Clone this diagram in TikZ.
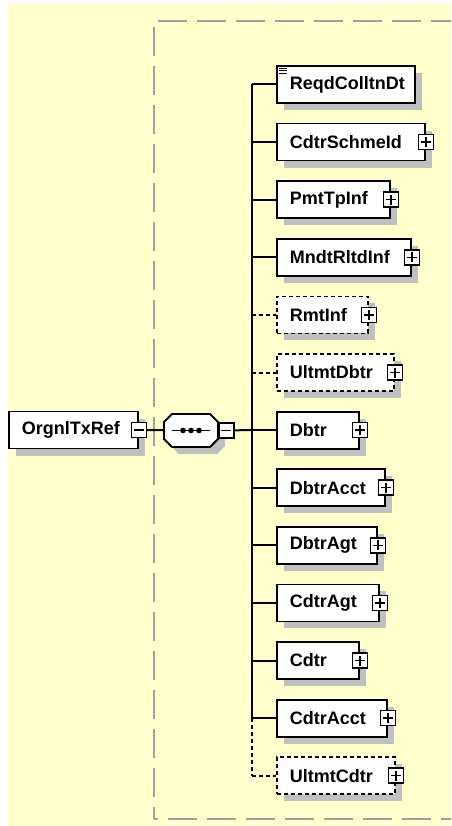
\documentclass[tikz,border=0pt]{standalone}
\usepackage{fontspec}
\setmainfont{Liberation Sans}
\usetikzlibrary{calc,shadows}
\definecolor{bgyellow}{RGB}{255,255,204}
\definecolor{shade}{RGB}{192,192,192}
\definecolor{frame}{RGB}{160,160,160}
\newcommand\elemfont{\fontsize{18}{20}\selectfont\bfseries}
\tikzset{
	conn/.style={line width=2pt, black},
	optline/.style={dash pattern=on 4pt off 3pt},
	elem/.style={draw, fill=white, line width=1.8pt, minimum height=37pt, inner xsep=13pt, inner ysep=0pt, anchor=west, align=left, font=\elemfont, general shadow={fill=shade, shadow xshift=7pt, shadow yshift=-7pt}},
	optelem/.style={elem, optline},
	expbox/.style={draw, fill=white, line width=1.5pt, minimum size=15pt, inner sep=0pt},
	plusbox/.style={expbox, path picture={\draw[line width=1.5pt] ($(path picture bounding box.center)+(-5pt,0pt)$) -- ++(10pt,0pt) ($(path picture bounding box.center)+(0pt,-5pt)$) -- ++(0pt,10pt);}},
	minusbox/.style={expbox, path picture={\draw[line width=1.5pt] ($(path picture bounding box.center)+(-5pt,0pt)$) -- ++(10pt,0pt);}},
	seqbox/.style={minimum width=54pt, minimum height=33pt, inner sep=0pt, outer sep=0pt},
	seqline/.style={draw, fill=white, line width=1.8pt, general shadow={fill=shade, shadow xshift=7pt, shadow yshift=-7pt}}
}
\begin{document}
\begin{tikzpicture}[x=1pt, y=-1pt]
			%%%%% START %%%%%
			
			\useasboundingbox (0, 0) rectangle (451, 826);
			\fill[bgyellow] (8, 4) rectangle (451, 826);
			
			\draw[frame, line width=1.8pt, dash pattern=on 29pt off 10pt, dash phase=35pt] (154, 21) -- (451, 21);
			\draw[frame, line width=1.8pt, dash pattern=on 29pt off 10pt, dash phase=33pt] (154, 21) -- (154, 819);
			\draw[frame, line width=1.8pt, dash pattern=on 29pt off 10pt, dash phase=25pt] (154, 819) -- (451, 819);
			
			\node[elem, text width=103pt] (root) at (8, 430) {OrgnlTxRef};
			\node[minusbox] (root-mn) at (root.east) {};
			
			\node[seqbox] (seq) at (191, 430.5) {};
			\draw[seqline] ($(seq.north west)+(8pt,0pt)$) -- ($(seq.north east)+(-8pt,0pt)$) -- ($(seq.north east)+(0pt,-8pt)$) -- ($(seq.south east)+(0pt,8pt)$) -- ($(seq.south east)+(-8pt,0pt)$) -- ($(seq.south west)+(8pt,0pt)$) -- ($(seq.south west)+(0pt,8pt)$) -- ($(seq.north west)+(0pt,-8pt)$) -- cycle;
			\draw[line width=1.8pt] ($(seq.west)+(8pt,0pt)$) -- ($(seq.east)+(-8pt,0pt)$);
			\fill ($(seq.center)+(-8pt,0pt)$) circle (2.8pt);
			\fill (seq.center) circle (2.8pt);
			\fill ($(seq.center)+(8pt,0pt)$) circle (2.8pt);
			\node[minusbox, anchor=west] (seq-mn) at (seq.east) {};
			
			\coordinate (bus) at (252, 430);
			
			\node[elem, text width=112pt] (reqd) at (276, 84.5) {ReqdColltnDt};
			\draw[line width=1pt] ($(reqd.north west)+(3pt,-3pt)$) -- ++(8pt,0pt);
			\draw[line width=1pt] ($(reqd.north west)+(3pt,-5.5pt)$) -- ++(8pt,0pt);
			\draw[line width=1pt] ($(reqd.north west)+(3pt,-8pt)$) -- ++(8pt,0pt);
			
			\node[elem, text width=122pt] (schme) at (276, 142.1) {CdtrSchmeId};
			\node[plusbox] (schme-pl) at (schme.east) {};
			
			\node[elem, text width=87pt] (pmttp) at (276, 199.7) {PmtTpInf};
			\node[plusbox] (pmttp-pl) at (pmttp.east) {};
			
			\node[elem, text width=108pt] (mndt) at (276, 257.3) {MndtRltdInf};
			\node[plusbox] (mndt-pl) at (mndt.east) {};
			
			\node[optelem, text width=65pt] (rmt) at (276, 314.9) {RmtInf};
			\node[plusbox] (rmt-pl) at (rmt.east) {};
			
			\node[optelem, text width=91pt] (ultdbtr) at (276, 372.5) {UltmtDbtr};
			\node[plusbox] (ultdbtr-pl) at (ultdbtr.east) {};
			
			\node[elem, text width=56pt] (dbtr) at (276, 430.1) {Dbtr};
			\node[plusbox] (dbtr-pl) at (dbtr.east) {};
			
			\node[elem, text width=82pt] (dbtracct) at (276, 487.7) {DbtrAcct};
			\node[plusbox] (dbtracct-pl) at (dbtracct.east) {};
			
			\node[elem, text width=74pt] (dbtragt) at (276, 545.3) {DbtrAgt};
			\node[plusbox] (dbtragt-pl) at (dbtragt.east) {};
			
			\node[elem, text width=76pt] (cdtragt) at (276, 602.9) {CdtrAgt};
			\node[plusbox] (cdtragt-pl) at (cdtragt.east) {};
			
			\node[elem, text width=56pt] (cdtr) at (276, 660.5) {Cdtr};
			\node[plusbox] (cdtr-pl) at (cdtr.east) {};
			
			\node[elem, text width=84pt] (cdtracct) at (276, 718.1) {CdtrAcct};
			\node[plusbox] (cdtracct-pl) at (cdtracct.east) {};
			
			\node[optelem, text width=92pt] (ultcdtr) at (276, 775.7) {UltmtCdtr};
			\node[plusbox] (ultcdtr-pl) at (ultcdtr.east) {};
			
			% connectors
			\draw[conn] (root-mn) -- (seq);
			\draw[conn] (seq-mn) -- (bus);
			\draw[conn] (reqd.west -| bus) -- (cdtracct.west -| bus);
			\draw[conn, optline] (cdtracct.west -| bus) -- (ultcdtr.west -| bus);
			
			\draw[conn] (reqd.west -| bus) -- (reqd);
			\draw[conn] (schme.west -| bus) -- (schme);
			\draw[conn] (pmttp.west -| bus) -- (pmttp);
			\draw[conn] (mndt.west -| bus) -- (mndt);
			\draw[conn, optline] (rmt.west -| bus) -- (rmt);
			\draw[conn, optline] (ultdbtr.west -| bus) -- (ultdbtr);
			\draw[conn] (dbtr.west -| bus) -- (dbtr);
			\draw[conn] (dbtracct.west -| bus) -- (dbtracct);
			\draw[conn] (dbtragt.west -| bus) -- (dbtragt);
			\draw[conn] (cdtragt.west -| bus) -- (cdtragt);
			\draw[conn] (cdtr.west -| bus) -- (cdtr);
			\draw[conn] (cdtracct.west -| bus) -- (cdtracct);
			\draw[conn, optline] (ultcdtr.west -| bus) -- (ultcdtr);
			
			%%%%% END %%%%%
\end{tikzpicture}
\end{document}
